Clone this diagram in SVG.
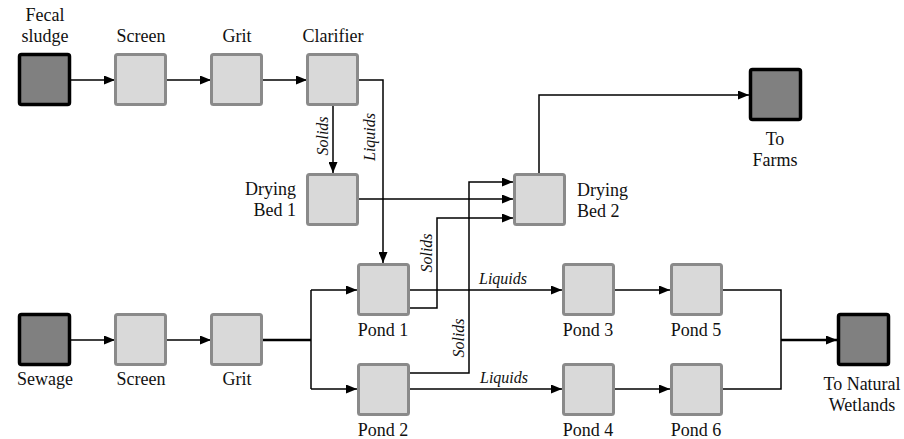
<svg xmlns="http://www.w3.org/2000/svg" width="904" height="439" viewBox="0 0 904 439" font-family="'Liberation Serif', 'DejaVu Serif', 'Times New Roman', Times, serif">
<style>
.lt{fill:#d9d9d9;stroke:#8a8a8a;stroke-width:3}
.dk{fill:#808080;stroke:#000;stroke-width:3.5}
text{font-family:'Liberation Serif','DejaVu Serif','Times New Roman',Times,serif;font-size:18px;fill:#111}
.c{text-anchor:middle}
.e{text-anchor:end}
.it{font-style:italic;font-size:16px;text-anchor:middle}
.ln{fill:none;stroke:#000;stroke-width:1.5}
.th{fill:none;stroke:#000;stroke-width:2.5}
</style>
<defs>
<marker id="a" markerUnits="userSpaceOnUse" markerWidth="11" markerHeight="9" refX="11" refY="4.5" orient="auto">
<path d="M0,0 L11,4.5 L0,9 z" fill="#000"/>
</marker>
</defs>
<rect width="904" height="439" fill="#fff"/>
<g id="connectors">
<path class="ln" d="M71,80 H115" marker-end="url(#a)"/>
<path class="ln" d="M167,80 H211" marker-end="url(#a)"/>
<path class="ln" d="M263,80 H307" marker-end="url(#a)"/>
<path class="ln" d="M359,80 H383 V263" marker-end="url(#a)"/>
<path class="ln" d="M333,106 V173" marker-end="url(#a)"/>
<path class="ln" d="M359,199 H513" marker-end="url(#a)"/>
<path class="ln" d="M539,173 V95 H749" marker-end="url(#a)"/>
<path class="ln" d="M409,308 H437 V218 H513" marker-end="url(#a)"/>
<path class="ln" d="M409,373 H469 V182 H513" marker-end="url(#a)"/>
<path class="ln" d="M71,340 H115" marker-end="url(#a)"/>
<path class="ln" d="M167,340 H211" marker-end="url(#a)"/>
<path class="th" d="M263,340 H311"/>
<path class="ln" d="M311,290 V389"/>
<path class="ln" d="M311,290 H357" marker-end="url(#a)"/>
<path class="ln" d="M311,389 H357" marker-end="url(#a)"/>
<path class="ln" d="M409,290 H562" marker-end="url(#a)"/>
<path class="ln" d="M409,389 H562" marker-end="url(#a)"/>
<path class="ln" d="M614,290 H670" marker-end="url(#a)"/>
<path class="ln" d="M614,389 H670" marker-end="url(#a)"/>
<path class="ln" d="M722,290 H781 V389 H722"/>
<path class="th" d="M781,340 H837" marker-end="url(#a)"/>
<text class="it" transform="translate(328,136) rotate(-90)">Solids</text>
<text class="it" transform="translate(375,137) rotate(-90)">Liquids</text>
<text class="it" transform="translate(432,253) rotate(-90)">Solids</text>
<text class="it" transform="translate(464,338) rotate(-90)">Solids</text>
<text class="it" x="503" y="284">Liquids</text>
<text class="it" x="504" y="383">Liquids</text>
</g>
<g id="fecal"><rect class="dk" x="19.5" y="54.5" width="50" height="50" rx="2"/><text class="c" x="45" y="21">Fecal</text><text class="c" x="45" y="42">sludge</text></g>
<g id="screen1"><rect class="lt" x="115.5" y="54.5" width="50" height="50" rx="2"/><text class="c" x="141" y="42">Screen</text></g>
<g id="grit1"><rect class="lt" x="211.5" y="54.5" width="50" height="50" rx="2"/><text class="c" x="237" y="42">Grit</text></g>
<g id="clarifier"><rect class="lt" x="307.5" y="54.5" width="50" height="50" rx="2"/><text class="c" x="333" y="42">Clarifier</text></g>
<g id="dryingbed1"><rect class="lt" x="307.5" y="174.5" width="50" height="50" rx="2"/><text class="e" x="296" y="195">Drying</text><text class="e" x="296" y="216">Bed 1</text></g>
<g id="dryingbed2"><rect class="lt" x="514.5" y="174.5" width="50" height="50" rx="2"/><text x="577" y="196">Drying</text><text x="577" y="217">Bed 2</text></g>
<g id="farms"><rect class="dk" x="750.5" y="69.5" width="50" height="50" rx="2"/><text class="c" x="775" y="145">To</text><text class="c" x="775" y="166">Farms</text></g>
<g id="sewage"><rect class="dk" x="19.5" y="314.5" width="50" height="50" rx="2"/><text class="c" x="45" y="385">Sewage</text></g>
<g id="screen2"><rect class="lt" x="115.5" y="314.5" width="50" height="50" rx="2"/><text class="c" x="141" y="385">Screen</text></g>
<g id="grit2"><rect class="lt" x="211.5" y="314.5" width="50" height="50" rx="2"/><text class="c" x="237" y="385">Grit</text></g>
<g id="pond1"><rect class="lt" x="358.5" y="264.5" width="50" height="50" rx="2"/><text class="c" x="383" y="336">Pond 1</text></g>
<g id="pond2"><rect class="lt" x="358.5" y="364.5" width="50" height="50" rx="2"/><text class="c" x="383" y="436">Pond 2</text></g>
<g id="pond3"><rect class="lt" x="563.5" y="264.5" width="50" height="50" rx="2"/><text class="c" x="588" y="336">Pond 3</text></g>
<g id="pond4"><rect class="lt" x="563.5" y="364.5" width="50" height="50" rx="2"/><text class="c" x="588" y="436">Pond 4</text></g>
<g id="pond5"><rect class="lt" x="671.5" y="264.5" width="50" height="50" rx="2"/><text class="c" x="696" y="336">Pond 5</text></g>
<g id="pond6"><rect class="lt" x="671.5" y="364.5" width="50" height="50" rx="2"/><text class="c" x="696" y="436">Pond 6</text></g>
<g id="wetlands"><rect class="dk" x="838.5" y="314.5" width="50" height="50" rx="2"/><text class="c" x="862" y="390">To Natural</text><text class="c" x="862" y="411">Wetlands</text></g>
</svg>
